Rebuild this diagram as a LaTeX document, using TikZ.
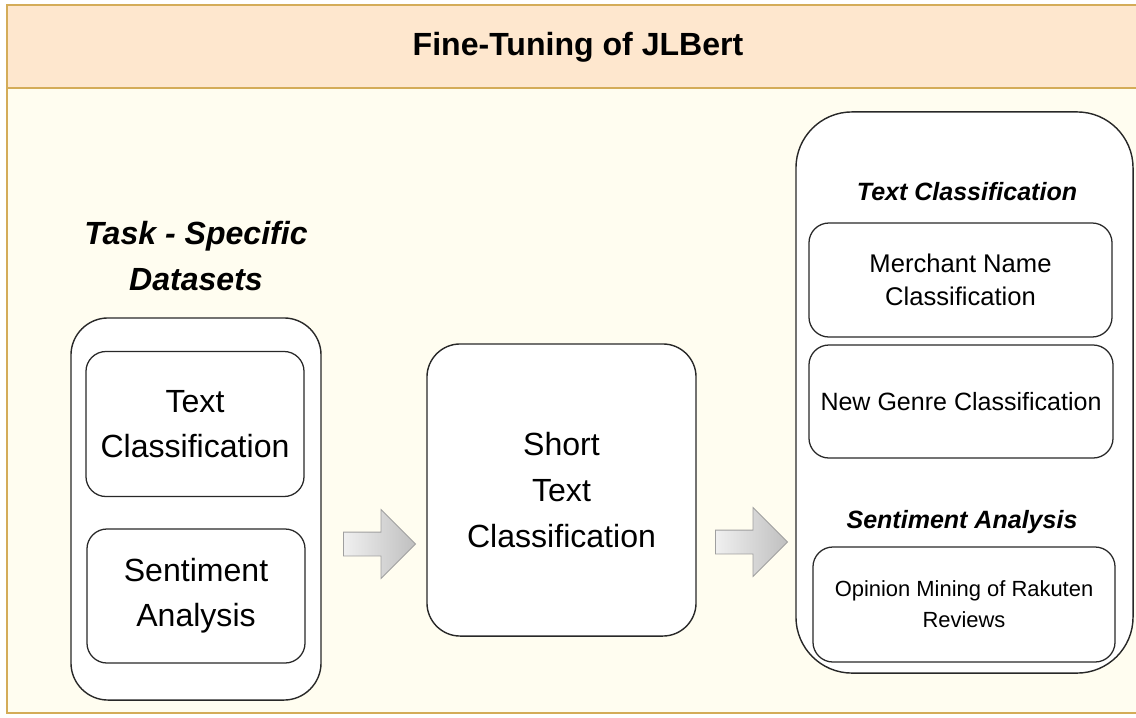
\documentclass[tikz,border=0pt]{standalone}
\usepackage{fontspec}
\setmainfont{Liberation Sans}
\usetikzlibrary{shapes.arrows}
\definecolor{headcolor}{RGB}{254,231,206}
\definecolor{bodycolor}{RGB}{255,253,240}
\definecolor{framecolor}{RGB}{212,172,88}
\definecolor{linecolor}{RGB}{40,40,40}

\begin{document}
\begin{tikzpicture}[
    x=0.025cm, y=-0.025cm,
    box/.style={rectangle, draw=linecolor, line width=0.9pt, fill=white, rounded corners=0.5cm, align=center, inner sep=2pt},
    bigbox/.style={box, line width=1pt},
    label/.style={font=\bfseries\itshape, align=center, inner sep=1pt},
    blockarrow/.style={single arrow, draw=gray!75, line width=0.6pt, left color=gray!12, right color=gray!50,
        minimum height=1.8cm, inner xsep=0pt, inner ysep=0.2875cm, text height=0pt, text depth=0pt,
        single arrow head extend=0.5625cm, single arrow head indent=0pt, anchor=tail}
]
    \clip (0,0) rectangle (1136,717);
    \useasboundingbox (0,0) rectangle (1136,717);

    % Frame and header
    \draw[framecolor, line width=1.1pt, fill=bodycolor] (7,5) rectangle (1150,713);
    \draw[framecolor, line width=1.1pt, fill=headcolor] (7,5) rectangle (1150,88);
    \node[font=\fontsize{22.8}{27}\selectfont\bfseries] (title) at (578,47) {Fine-Tuning of JLBert};

    % Task-specific datasets
    \node[label, font=\fontsize{22.8}{33}\selectfont\bfseries\itshape] (dsetlabel) at (196,256) {Task - Specific\\Datasets};
    \node[bigbox, rounded corners=0.93cm, minimum width=6.25cm, minimum height=9.55cm] (dsets) at (196,509) {};
    \node[box, font=\fontsize{22.8}{32}\selectfont, minimum width=5.45cm, minimum height=3.625cm] (tcdata) at (195,424) {Text\\Classification};
    \node[box, font=\fontsize{22.8}{32}\selectfont, minimum width=5.45cm, minimum height=3.35cm] (sadata) at (196,596) {Sentiment\\Analysis};

    % Short text classification
    \node[bigbox, rounded corners=0.83cm, font=\fontsize{22.8}{33}\selectfont, minimum width=6.725cm, minimum height=7.3cm] (shorttc) at (561.5,490) {Short\\Text\\Classification};

    % Downstream tasks
    \node[bigbox, rounded corners=1.4cm, minimum width=8.425cm, minimum height=14.025cm] (tasks) at (964.5,392.5) {};
    \node[label, font=\fontsize{17.8}{21}\selectfont\bfseries\itshape] (tclabel) at (967,192) {Text Classification};
    \node[box, font=\fontsize{18.2}{23}\selectfont, minimum width=7.575cm, minimum height=2.85cm] (merchant) at (960.5,280) {Merchant Name\\Classification};
    \node[box, font=\fontsize{17.8}{22}\selectfont, minimum width=7.6cm, minimum height=2.825cm] (genre) at (961,401.5) {New Genre Classification};
    \node[label, font=\fontsize{17.8}{21}\selectfont\bfseries\itshape] (salabel) at (962,522) {Sentiment Analysis};
    \node[box, font=\fontsize{15.6}{22}\selectfont, minimum width=7.55cm, minimum height=2.875cm] (opinion) at (964,604.5) {Opinion Mining of Rakuten\\Reviews};

    % Block arrows
    \node[blockarrow] (arrowa) at (343,544) {};
    \node[blockarrow] (arrowb) at (715,542) {};

\end{tikzpicture}
\end{document}
